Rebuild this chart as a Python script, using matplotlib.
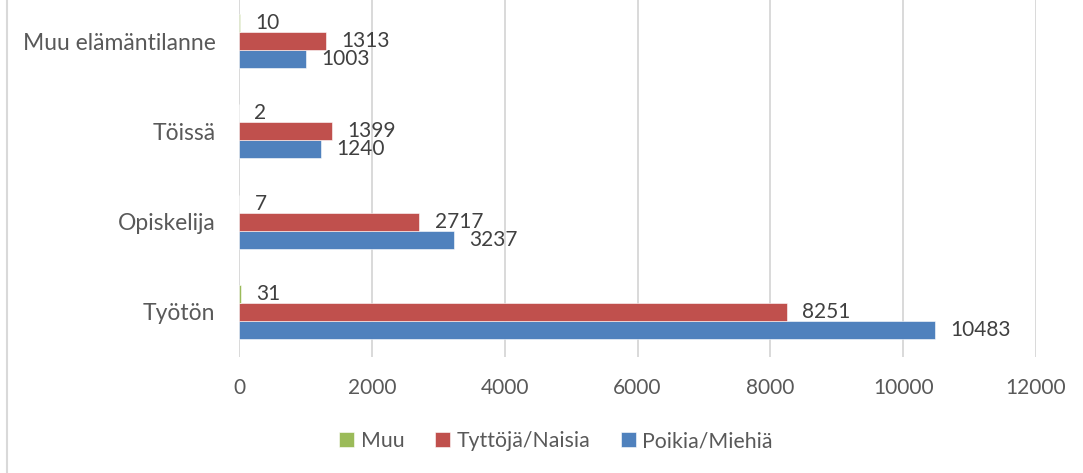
import matplotlib
matplotlib.use("Agg")
import matplotlib.pyplot as plt
import numpy as np
from matplotlib.lines import Line2D

categories = ["Työtön", "Opiskelija", "Töissä", "Muu elämäntilanne"]
poikia = [10483, 3237, 1240, 1003]
tyttoja = [8251, 2717, 1399, 1313]
muu = [31, 7, 2, 10]
series_names = ["Poikia/Miehiä", "Tyttöjä/Naisia", "Muu"]
xticks = [0, 2000, 4000, 6000, 8000, 10000, 12000]

colors = ["#4F81BD", "#C0504D", "#9BBB59"]
text_color = "#595959"
plt.rcParams['font.family'] = ['Lato', 'DejaVu Sans']

W, H = 1083, 473
fig = plt.figure(figsize=(W / 100, H / 100), dpi=100)
ax = fig.add_axes([239 / W, 1 - 357 / H, (1036 - 239) / W, (357 + 4) / H])

y = np.arange(len(categories))
h = 0.2
offsets = [-h, 0, h]
handles = []
for vals, off, c, name in zip([poikia, tyttoja, muu], offsets, colors, series_names):
    bars = ax.barh(y + off, vals, height=h, color=c, label=name, zorder=3,
                   edgecolor="white", linewidth=0.4)
    ax.bar_label(bars, labels=[str(v) for v in vals], padding=11,
                 fontsize=15, color="#404040")
    handles.append(bars)

ax.set_xlim(0, 12000)
ax.set_ylim(-0.5, len(categories) - 0.5)
ax.set_xticks(xticks)
ax.set_xticklabels([str(t) for t in xticks])
ax.set_yticks(y)
ax.set_yticklabels(categories)
ax.tick_params(axis='both', length=0, labelsize=15, labelcolor=text_color)
ax.tick_params(axis='y', pad=17, labelsize=16.5)
ax.tick_params(axis='x', pad=15)
ax.grid(axis='x', color="#D9D9D9", linewidth=1.4, zorder=0)
ax.set_axisbelow(True)
for s in ax.spines.values():
    s.set_visible(False)

leg = fig.legend(handles=[handles[2], handles[1], handles[0]],
                 labels=["Muu", "Tyttöjä/Naisia", "Poikia/Miehiä"],
                 loc='center', bbox_to_anchor=(556 / W, 1 - 441 / H), ncol=3,
                 frameon=False, fontsize=15.3, handlelength=0.7, handleheight=0.7,
                 handletextpad=0.3, columnspacing=1.45)
for t in leg.get_texts():
    t.set_color(text_color)

fig.add_artist(Line2D([7 / W, 7 / W], [0, 1], transform=fig.transFigure,
                      color="#D9D9D9", linewidth=1.5))

fig.savefig("out.png", dpi=100)
